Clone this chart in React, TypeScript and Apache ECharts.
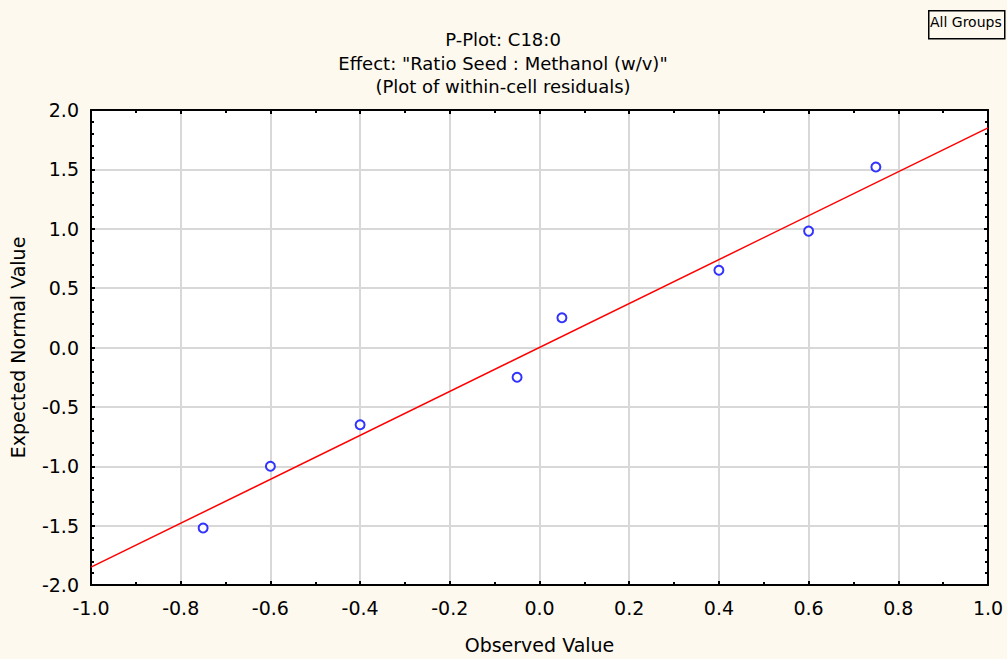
import React, { useEffect, useRef } from "react";
import * as echarts from "echarts";

const titleLines = ["P-Plot: C18:0", 'Effect: "Ratio Seed : Methanol (w/v)"', "(Plot of within-cell residuals)"];
const observed = [-0.75, -0.6, -0.4, -0.05, 0.05, 0.4, 0.6, 0.75];
const expected = [-1.52, -1.0, -0.65, -0.25, 0.25, 0.65, 0.98, 1.52];
const lineX = [-1, 1];
const lineY = [-1.85, 1.85];
const xName = "Observed Value";
const yName = "Expected Normal Value";
const legendText = "All Groups";

export default function App() {
  const ref = useRef<HTMLDivElement>(null);
  useEffect(() => {
    const chart = echarts.init(ref.current!, null, { renderer: "svg" });
    const font = "DejaVu Sans, sans-serif";
    const fs = 19;
    const axisCommon = {
      axisLine: { show: true, onZero: false, lineStyle: { color: "#000", width: 2 } },
      axisTick: { show: true, inside: true, length: 4, lineStyle: { color: "#000", width: 2 } },
      minorTick: { show: true, splitNumber: 5, length: 3, lineStyle: { color: "#000", width: 2 } },
    };
    chart.setOption({
      animation: false,
      backgroundColor: "#fdf9ef",
      title: {
        text: titleLines.join("\n"),
        left: 498,
        top: 23,
        textAlign: "center",
        textStyle: { fontFamily: font, fontSize: 18, fontWeight: "normal", color: "#000", lineHeight: 23.5 },
      },
      graphic: [
        {
          type: "rect",
          left: 928,
          top: 10,
          shape: { width: 76, height: 28 },
          style: { fill: "#fdf9ef", stroke: "#000", lineWidth: 1.5 },
        },
        {
          type: "text",
          left: 930,
          top: 15,
          style: { text: legendText, font: `14px ${font}`, fill: "#000" },
        },
      ],
      grid: { left: 88, top: 110, width: 900, height: 477, backgroundColor: "#fff", show: true, borderWidth: 0 },
      xAxis: [
        {
          type: "value",
          min: -1,
          max: 1,
          interval: 0.2,
          position: "bottom",
          ...axisCommon,
          minorTick: { ...axisCommon.minorTick, splitNumber: 2 },
          splitLine: { show: true, lineStyle: { color: "#d8d8d8", width: 2 } },
          axisLabel: { fontFamily: font, fontSize: fs, color: "#000", margin: 13, formatter: (v: number) => v.toFixed(1) },
          name: xName,
          nameLocation: "middle",
          nameGap: 50,
          nameTextStyle: { fontFamily: font, fontSize: fs, color: "#000" },
        },
        {
          type: "value",
          min: -1,
          max: 1,
          interval: 0.2,
          position: "top",
          ...axisCommon,
          minorTick: { ...axisCommon.minorTick, splitNumber: 2 },
          splitLine: { show: false },
          axisLabel: { show: false },
        },
      ],
      yAxis: [
        {
          type: "value",
          min: -2,
          max: 2,
          interval: 0.5,
          position: "left",
          ...axisCommon,
          splitLine: { show: true, lineStyle: { color: "#d8d8d8", width: 2 } },
          axisLabel: { fontFamily: font, fontSize: fs, color: "#000", margin: 12, formatter: (v: number) => v.toFixed(1) },
          name: yName,
          nameLocation: "middle",
          nameGap: 64,
          nameTextStyle: { fontFamily: font, fontSize: fs, color: "#000" },
        },
        {
          type: "value",
          min: -2,
          max: 2,
          interval: 0.5,
          position: "right",
          ...axisCommon,
          splitLine: { show: false },
          axisLabel: { show: false },
        },
      ],
      series: [
        {
          type: "line",
          data: lineX.map((x, i) => [x, lineY[i]]),
          symbol: "none",
          lineStyle: { color: "#ff0000", width: 1.5 },
          z: 2,
        },
        {
          type: "scatter",
          data: observed.map((x, i) => [x, expected[i]]),
          symbol: "emptyCircle",
          symbolSize: 9,
          itemStyle: { color: "#0000ff", borderColor: "#0000ff", borderWidth: 2.2 },
          z: 3,
        },
      ],
    });
    return () => chart.dispose();
  }, []);
  return <div ref={ref} style={{ position: "fixed", left: 0, top: 0, width: 1007, height: 659 }} />;
}
